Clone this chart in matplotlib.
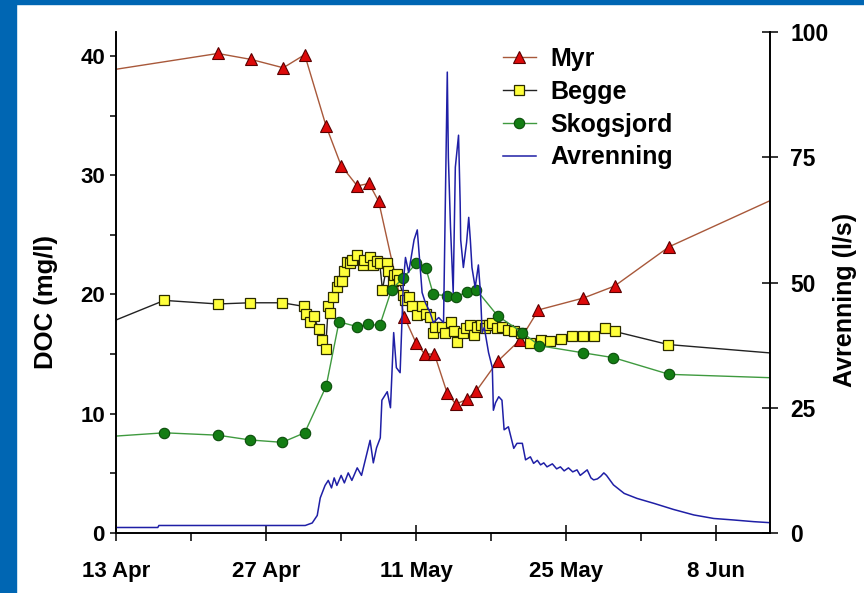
import datetime as dt
import matplotlib
matplotlib.use('Agg')
import matplotlib.pyplot as plt
import matplotlib.dates as mdates
from matplotlib.patches import Rectangle
from matplotlib.ticker import MultipleLocator, FixedLocator, FuncFormatter

start = dt.datetime(2000, 4, 13)

# sampling time in days after 13 Apr, DOC in mg/l
myr_day = [-7, 9.5, 12.6, 15.6, 17.6, 19.6, 21.0, 22.5, 23.6, 24.5, 26.9, 28.0,
           28.8, 29.7, 30.9, 31.7, 32.7, 33.6, 35.6, 37.7, 39.4, 43.6, 46.5, 51.6, 65]
myr_doc = [37.9, 40.2, 39.7, 39.0, 40.1, 34.1, 30.8, 29.1, 29.3, 27.8, 18.1, 15.9,
           15.0, 15.0, 11.7, 10.8, 11.2, 11.9, 14.4, 16.2, 18.7, 19.7, 20.7, 24.0, 29.5]

begge_day = [-7, 4.5, 9.5, 12.5, 15.5, 17.5, 17.75, 18.1, 18.45, 18.9, 19.2, 19.55,
             19.8, 20.0, 20.2, 20.6, 20.8, 21.1, 21.3, 21.5, 21.85, 22.0, 22.5, 23.0,
             23.15, 23.7, 24.0, 24.3, 24.6, 24.85, 25.3, 25.4, 25.8, 25.9, 26.2, 26.35,
             26.8, 27.0, 27.3, 27.6, 28.1, 28.5, 28.9, 29.3, 29.6, 29.8, 30.4, 30.7,
             31.2, 31.5, 31.8, 32.4, 32.6, 33.0, 33.4, 33.7, 34.0, 34.4, 34.8, 35.1,
             35.5, 36.0, 36.6, 37.1, 37.8, 38.6, 39.6, 40.5, 41.5, 42.5, 43.6, 44.6,
             45.6, 46.5, 51.5, 65]
begge_doc = [15.3, 19.5, 19.2, 19.3, 19.3, 19.0, 18.4, 17.7, 18.15, 17.1, 16.2, 15.4,
             19.0, 18.45, 19.8, 20.6, 21.1, 21.1, 22.0, 22.7, 22.6, 22.9, 23.3, 22.5,
             22.9, 23.1, 22.5, 22.8, 22.6, 20.4, 22.6, 22.0, 21.1, 21.6, 21.7, 21.2,
             19.95, 19.5, 19.8, 19.0, 18.3, 19.0, 18.4, 18.1, 16.75, 17.3, 17.3, 16.75,
             17.7, 16.9, 16.0, 16.75, 17.2, 17.4, 16.6, 17.3, 17.4, 17.2, 17.4, 17.6,
             17.2, 17.3, 17.0, 16.9, 16.8, 15.95, 16.2, 16.1, 16.3, 16.5, 16.5, 16.5,
             17.2, 16.9, 15.8, 14.8]

skog_day = [-7, 4.5, 9.5, 12.5, 15.5, 17.6, 19.6, 20.8, 22.5, 23.5, 24.6, 25.7, 26.8,
            28.0, 28.9, 29.6, 30.9, 31.7, 32.7, 33.6, 35.6, 37.9, 39.5, 43.6, 46.4,
            51.6, 65]
skog_doc = [7.7, 8.4, 8.2, 7.8, 7.6, 8.4, 12.3, 17.7, 17.3, 17.5, 17.4, 20.4, 21.4,
            22.6, 22.2, 20.0, 19.9, 19.8, 20.2, 20.4, 18.2, 16.8, 15.7, 15.1, 14.7,
            13.3, 12.9]

# runoff in l/s
avr_day = [0, 3.9, 4.0, 17.65, 18.3, 18.77, 19.05, 19.5, 19.8, 20.1, 20.35, 20.6,
           21.0, 21.3, 21.66, 22.0, 22.5, 22.9, 23.3, 23.7, 24.0, 24.3, 24.65, 24.8,
           25.3, 25.6, 25.9, 26.15, 26.5, 26.8, 27.0, 27.3, 27.8, 28.1, 28.3, 28.55,
           28.85, 29.3, 29.6, 30.1, 30.55, 30.9, 31.0, 31.2, 31.45, 31.65, 31.95, 32.1,
           32.15, 32.4, 32.7, 32.9, 33.05, 33.2, 33.5, 33.8, 34.0, 34.15, 34.35, 34.75,
           35.1, 35.2, 35.4, 35.7, 36.0, 36.2, 36.6, 37.1, 37.4, 37.9, 38.2, 38.65,
           38.95, 39.3, 39.6, 39.9, 40.2, 40.7, 41.1, 41.45, 41.8, 42.2, 42.6, 43.0,
           43.3, 43.95, 44.3, 44.55, 44.9, 45.2, 45.5, 45.75, 46.4, 47.4, 48.6, 50.2,
           52.0, 53.9, 55.75, 57.6, 59.5, 61.0]
avr_flow = [1.1, 1.1, 1.5, 1.5, 2.0, 3.5, 7.0, 9.5, 10.5, 9.0, 11.0, 9.5,
            11.5, 10.0, 12.0, 10.5, 13.0, 11.5, 15.0, 18.5, 14.0, 17.0, 19.0, 26.5,
            28.2, 25.0, 40.0, 33.0, 32.0, 50.0, 55.0, 52.0, 58.5, 60.5, 55.0, 48.0,
            46.0, 44.0, 42.0, 43.0, 42.0, 92.0, 75.0, 61.0, 48.0, 73.0, 79.4, 66.0,
            58.5, 53.0, 58.0, 63.0, 58.5, 53.0, 49.0, 53.5, 47.8, 40.0, 41.0, 36.0,
            33.0, 24.5, 26.0, 27.2, 26.5, 20.6, 21.2, 16.9, 17.9, 17.9, 14.6, 15.2,
            13.9, 14.5, 13.6, 14.0, 13.2, 13.8, 12.8, 13.2, 12.4, 13.0, 12.2, 12.6,
            11.5, 12.6, 11.0, 10.6, 10.8, 11.3, 12.0, 11.5, 9.6, 7.9, 6.9, 5.9,
            4.7, 3.6, 2.9, 2.6, 2.26, 2.06]

tick_dates = ['2000-04-13', '2000-04-27', '2000-05-11', '2000-05-25', '2000-06-08']


def to_dates(days):
    return [start + dt.timedelta(days=float(d)) for d in days]


plt.rcParams['font.family'] = ['Liberation Sans', 'DejaVu Sans']
plt.rcParams['font.weight'] = 'bold'

fig = plt.figure(figsize=(8.64, 5.93), dpi=100)
fig.patch.set_facecolor('white')
blue = '#0066b3'
fig.patches.append(Rectangle((0, 0), 16 / 864, 1, transform=fig.transFigure,
                             color=blue, zorder=0))
fig.patches.append(Rectangle((0, 1 - 4 / 593), 1, 4 / 593, transform=fig.transFigure,
                             color=blue, zorder=0))

ax = fig.add_axes([116 / 864, 60 / 593, 654 / 864, 501 / 593])
ax2 = ax.twinx()

l1, = ax.plot(to_dates(myr_day), myr_doc, color='#a8583a', lw=1.0, marker='^',
              ms=8.5, mfc='#dd0a0a', mec='#5a0000', mew=0.8, label='Myr')
l2, = ax.plot(to_dates(begge_day), begge_doc, color='#222222', lw=1.0, marker='s',
              ms=6.5, mfc='#ffff3a', mec='#2a2a00', mew=0.9, label='Begge')
l3, = ax.plot(to_dates(skog_day), skog_doc, color='#3f9a3f', lw=1.0, marker='o',
              ms=7.5, mfc='#137d13', mec='#0b4d0b', mew=0.8, label='Skogsjord')
l4, = ax2.plot(to_dates(avr_day), avr_flow, color='#1f1fa6', lw=1.1, label='Avrenning')

ax.set_xlim(start, start + dt.timedelta(days=61))
ax.set_ylim(0, 42)
ax2.set_ylim(0, 100)

ax.xaxis.set_major_locator(FixedLocator(mdates.datestr2num(tick_dates)))
ax.xaxis.set_minor_locator(FixedLocator(mdates.datestr2num(tick_dates) + 7))
ax.xaxis.set_major_formatter(
    FuncFormatter(lambda x, p: mdates.num2date(x).strftime('%d %b').lstrip('0')))

ax.yaxis.set_major_locator(MultipleLocator(10))
ax.yaxis.set_minor_locator(MultipleLocator(5))
ax2.yaxis.set_major_locator(MultipleLocator(25))

for a in (ax, ax2):
    a.spines['top'].set_visible(False)
    for s in a.spines.values():
        s.set_linewidth(1.2)

ax.tick_params(axis='x', which='major', direction='inout', length=11, width=1.1,
               labelsize=16, pad=15)
ax.tick_params(axis='x', which='minor', direction='out', length=6, width=1.1)
ax.tick_params(axis='y', which='both', direction='out', length=4, width=1.1,
               labelsize=16, pad=4)
ax2.tick_params(axis='y', which='major', direction='inout', length=11, width=1.1,
                labelsize=16.5, pad=9)

ax.set_ylabel('DOC (mg/l)', fontsize=18.5, fontweight='bold', va='center')
ax.yaxis.set_label_coords(-0.107, 0.461)
ax2.set_ylabel('Avrenning (l/s)', fontsize=18, fontweight='bold', va='center',
               rotation=90)
ax2.yaxis.set_label_coords(1.115, 0.465)

ax2.legend(handles=[l1, l2, l3, l4], loc='upper left',
           bbox_to_anchor=(0.592, 0.97), frameon=False, fontsize=18,
           handlelength=1.3, handletextpad=0.6, labelspacing=0.35,
           borderpad=0, borderaxespad=0)

fig.savefig('out.png', dpi=100, facecolor=fig.get_facecolor())
